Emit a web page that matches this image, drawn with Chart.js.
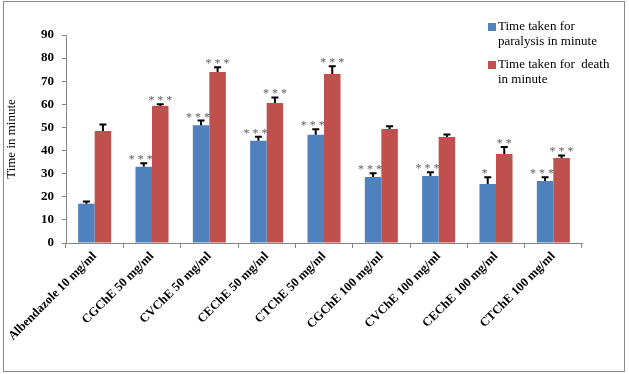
<!DOCTYPE html>
<html>
<head>
<meta charset="utf-8">
<script src="https://cdn.jsdelivr.net/npm/chart.js@4.4.1/dist/chart.umd.min.js"></script>
<style>
  html, body { margin: 0; padding: 0; background: #fff; }
  #wrap { width: 629px; height: 374px; position: relative; }
</style>
</head>
<body>
<div id="wrap"><canvas id="chart" width="629" height="374"></canvas></div>
<script>
const categories = [
    "Albendazole 10 mg/ml", "CGChE 50 mg/ml", "CVChE 50 mg/ml", "CEChE 50 mg/ml",
    "CTChE 50 mg/ml", "CGChE 100 mg/ml", "CVChE 100 mg/ml", "CEChE 100 mg/ml", "CTChE 100 mg/ml"
];
const paralysisTime = [17, 33, 51, 44.2, 46.8, 28.6, 29, 25.5, 26.8];
const paralysisErr = [1, 1.5, 2, 1.8, 2.4, 1.6, 1.6, 2.9, 1.6];
const paralysisSig = ["", "***", "***", "***", "***", "***", "***", "*", "***"];
const deathTime = [48.5, 59.3, 74, 60.6, 73.1, 49.3, 45.9, 38.5, 36.8];
const deathErr = [2.8, 0.7, 2, 2.4, 3.4, 1.2, 1.1, 3, 1.1];
const deathSig = ["", "***", "***", "***", "***", "", "", "**", "***"];
const yTicks = [0, 10, 20, 30, 40, 50, 60, 70, 80, 90];

const legendLines = [
    ["Time taken for", "paralysis in minute"],
    ["Time taken for  death", "in minute"]
];

const blue = "#4F81BD";
const red = "#C0504D";
const axisGray = "#868686";
const serif = "'Liberation Serif', 'Times New Roman', serif";

// error bars (upper whisker only) + significance stars
const errorBarPlugin = {
    id: "errorBars",
    afterDatasetsDraw(chart) {
        const ctx = chart.ctx;
        const yScale = chart.scales.y;
        const errs = [paralysisErr, deathErr];
        const sigs = [paralysisSig, deathSig];
        const shift = [-3, 0];
        ctx.save();
        chart.data.datasets.forEach((ds, i) => {
            const meta = chart.getDatasetMeta(i);
            meta.data.forEach((bar, j) => {
                const yTop = yScale.getPixelForValue(ds.data[j] + errs[i][j]);
                const yVal = yScale.getPixelForValue(ds.data[j]);
                ctx.strokeStyle = "#000";
                ctx.lineWidth = 2;
                ctx.beginPath();
                ctx.moveTo(bar.x, yVal);
                ctx.lineTo(bar.x, yTop);
                ctx.moveTo(bar.x - 3.5, yTop);
                ctx.lineTo(bar.x + 3.5, yTop);
                ctx.stroke();
                const s = sigs[i][j];
                if (s) {
                    ctx.fillStyle = "#5f5f5f";
                    ctx.font = "12px " + serif;
                    ctx.textAlign = "center";
                    ctx.textBaseline = "alphabetic";
                    ctx.fillText(s.split("").join(" "), bar.x + shift[i], yTop);
                }
            });
        });
        ctx.restore();
    }
};

// outer frame and two-line legend
const framePlugin = {
    id: "frame",
    beforeDraw(chart) {
        const ctx = chart.ctx;
        ctx.save();
        ctx.fillStyle = "#fff";
        ctx.fillRect(0, 0, chart.width, chart.height);
        ctx.restore();
    },
    afterDraw(chart) {
        const ctx = chart.ctx;
        ctx.save();
        ctx.strokeStyle = "#8a8a8a";
        ctx.lineWidth = 1;
        ctx.strokeRect(3.5, 1.5, 621, 370);

        const colors = [blue, red];
        const x0 = 488;
        let y = 27;
        ctx.font = "13px " + serif;
        ctx.textBaseline = "middle";
        ctx.textAlign = "left";
        legendLines.forEach((lines, i) => {
            ctx.fillStyle = colors[i];
            ctx.fillRect(x0, y - 4, 8, 8);
            ctx.fillStyle = "#000";
            lines.forEach((t, k) => ctx.fillText(t, x0 + 10, y + k * 15));
            y += 38;
        });
        ctx.restore();
    }
};

new Chart(document.getElementById("chart"), {
    type: "bar",
    data: {
        labels: categories,
        datasets: [
            { label: "Time taken for paralysis in minute", data: paralysisTime, backgroundColor: blue },
            { label: "Time taken for death in minute", data: deathTime, backgroundColor: red }
        ]
    },
    options: {
        responsive: false,
        animation: false,
        layout: { padding: { left: 0, right: 47, top: 35, bottom: 0 } },
        datasets: { bar: { categoryPercentage: 0.576, barPercentage: 1 } },
        plugins: { legend: { display: false }, tooltip: { enabled: false } },
        scales: {
            x: {
                afterFit: (scale) => { scale.height = 131; },
                grid: { drawOnChartArea: false, color: axisGray, tickLength: 5, offset: true },
                border: { color: axisGray },
                ticks: {
                    color: "#000",
                    font: { family: serif, size: 12.5, weight: "bold" },
                    minRotation: 45, maxRotation: 45, padding: 1, autoSkip: false
                }
            },
            y: {
                min: 0, max: 90,
                afterFit: (scale) => { scale.width = 66; },
                afterBuildTicks: (scale) => { scale.ticks = yTicks.map(v => ({ value: v })); },
                grid: { drawOnChartArea: false, color: axisGray, tickLength: 4 },
                border: { color: axisGray },
                ticks: {
                    color: "#000",
                    font: { family: serif, size: 13, weight: "bold" },
                    padding: 8
                },
                title: {
                    display: true, text: "Time in minute", color: "#000",
                    font: { family: serif, size: 13 }, padding: { top: 4, bottom: 0 }
                }
            }
        }
    },
    plugins: [errorBarPlugin, framePlugin]
});
</script>
</body>
</html>
